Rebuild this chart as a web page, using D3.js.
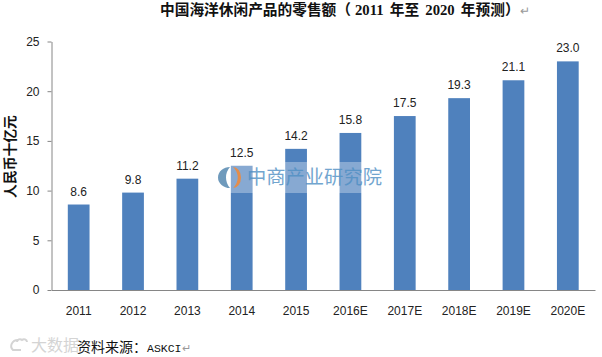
<!DOCTYPE html>
<html>
<head>
<meta charset="utf-8">
<script src="https://cdn.jsdelivr.net/npm/d3@7"></script>
<style>
  html, body { margin: 0; padding: 0; background: #fff; }
  svg { display: block; }
  .ejes text { font-family: "Liberation Sans", Arial, sans-serif; font-size: 12px; fill: #222; }
  .valor { font-family: "Liberation Sans", Arial, sans-serif; font-size: 12px; fill: #222; text-anchor: middle; }
</style>
</head>
<body>
<div id="graf"></div>
<script>
// datos
anios = ['2011','2012','2013','2014','2015','2016E','2017E','2018E','2019E','2020E']
valores = [8.6, 9.8, 11.2, 12.5, 14.2, 15.8, 17.5, 19.3, 21.1, 23.0]
ticks_y = [0, 5, 10, 15, 20, 25]
titulo_a = '中国海洋休闲产品的零售额（'
titulo_b = '2011 年至 2020 年预测）'
fuente_txt = '资料来源：'
fuente_latin = 'ASKCI'
marca_txt = '中商产业研究院'
eje_y_txt = '人民币十亿元'
retorno = '↵'

fuente_serif = '"Liberation Serif", "Noto Sans CJK SC", serif'
fuente_cjk = '"Noto Sans CJK SC", sans-serif'

ancho_total = 602
alto_total = 357
margins = { top: 41.5, left: 51.5, right: 7, bottom: 67 }
ancho = ancho_total - margins.left - margins.right
alto = alto_total - margins.top - margins.bottom

svg = d3.select('#graf').append('svg')
        .attr('width', ancho_total)
        .attr('height', alto_total)

g = svg.append('g')
       .attr('transform', `translate(${margins.left}, ${margins.top})`)

// escalas
x = d3.scaleBand().domain(anios).range([0, ancho]).paddingInner(0.6).paddingOuter(0.3)
y = d3.scaleLinear().domain([0, 25]).range([alto, 0])

// barras
g.selectAll('.barra')
  .data(valores)
  .enter().append('rect')
  .attr('class', 'barra')
  .attr('x', (d, i) => x(anios[i]))
  .attr('y', d => y(d))
  .attr('width', x.bandwidth())
  .attr('height', d => alto - y(d))
  .attr('fill', '#4f81bd')

// etiquetas de valor
g.selectAll('.valor')
  .data(valores)
  .enter().append('text')
  .attr('class', 'valor')
  .attr('x', (d, i) => x(anios[i]) + x.bandwidth() / 2)
  .attr('y', d => y(d) - 9)
  .text(d => d.toFixed(1))

// ejes
yAxis = g.append('g').attr('class', 'ejes')
         .call(d3.axisLeft(y).tickValues(ticks_y).tickSize(4).tickSizeOuter(0).tickPadding(8))
yAxis.selectAll('line').attr('stroke', '#868686')
yAxis.select('.domain').attr('stroke', '#868686')

xAxis = g.append('g').attr('class', 'ejes')
         .attr('transform', `translate(0, ${alto})`)
         .call(d3.axisBottom(x).tickSize(0).tickPadding(16))
xAxis.select('.domain').attr('stroke', '#868686')

// titulos
titulo = svg.append('text')
   .attr('x', 160).attr('y', 15)
   .attr('font-family', fuente_serif)
   .attr('font-size', 14.7).attr('font-weight', 700).attr('fill', '#111')
titulo.append('tspan').text(titulo_a)
titulo.append('tspan')
   .attr('x', 355)
   .attr('word-spacing', 2.5)
   .text(titulo_b)
titulo.append('tspan')
   .attr('x', 520)
   .attr('font-size', 12).attr('font-weight', 400).attr('fill', '#999')
   .text(retorno)

svg.append('text')
   .attr('transform', 'translate(15, 156.5) rotate(-90)')
   .attr('text-anchor', 'middle')
   .attr('font-family', fuente_cjk)
   .attr('font-size', 13.8).attr('font-weight', 700).attr('fill', '#111')
   .text(eje_y_txt)

// marca de agua central
marca = svg.append('g')
marca.append('rect')
     .attr('x', 216).attr('y', 162).attr('width', 170).attr('height', 31)
     .attr('fill', '#fff').attr('opacity', 0.32)
marca.append('path')
     .attr('d', 'M230,167 a12,10.5 0 0 0 0,21 a16,16 0 0 1 -4,-10.5 a16,16 0 0 1 4,-10.5 z')
     .attr('fill', '#5f8fb5').attr('opacity', 0.9)
marca.append('path')
     .attr('d', 'M233,167 a8,10.5 0 0 1 0,21 a14,14 0 0 0 0,-21 z')
     .attr('fill', '#ee8a3c').attr('opacity', 0.9)
marca.append('text')
     .attr('x', 247).attr('y', 184)
     .attr('font-family', fuente_cjk)
     .attr('font-size', 19.3).attr('fill', '#4f8fc4').attr('opacity', 0.8)
     .text(marca_txt)

// marca de la esquina
esquina = svg.append('g').attr('fill', 'none').attr('stroke', '#d4d4d4').attr('stroke-width', 2)
esquina.append('path').attr('d', 'M18,340 a7,6 0 0 0 -5,10 l8,0')
esquina.append('path').attr('d', 'M17,342 a3,3 0 0 1 5,-2 a3,3 0 0 1 5,2')
svg.append('text')
   .attr('x', 31).attr('y', 351)
   .attr('font-family', fuente_cjk)
   .attr('font-size', 16).attr('fill', '#d4d4d4')
   .text('大数据')

// pie de pagina
fuente = svg.append('text')
   .attr('x', 77).attr('y', 352)
   .attr('font-family', fuente_cjk)
   .attr('font-size', 14).attr('fill', '#111')
   .text(fuente_txt)
fuente.append('tspan')
   .attr('font-family', '"Liberation Mono", monospace')
   .attr('font-size', 11.5)
   .text(fuente_latin)
fuente.append('tspan')
   .attr('font-size', 11).attr('fill', '#999')
   .text(retorno)
</script>
</body>
</html>
